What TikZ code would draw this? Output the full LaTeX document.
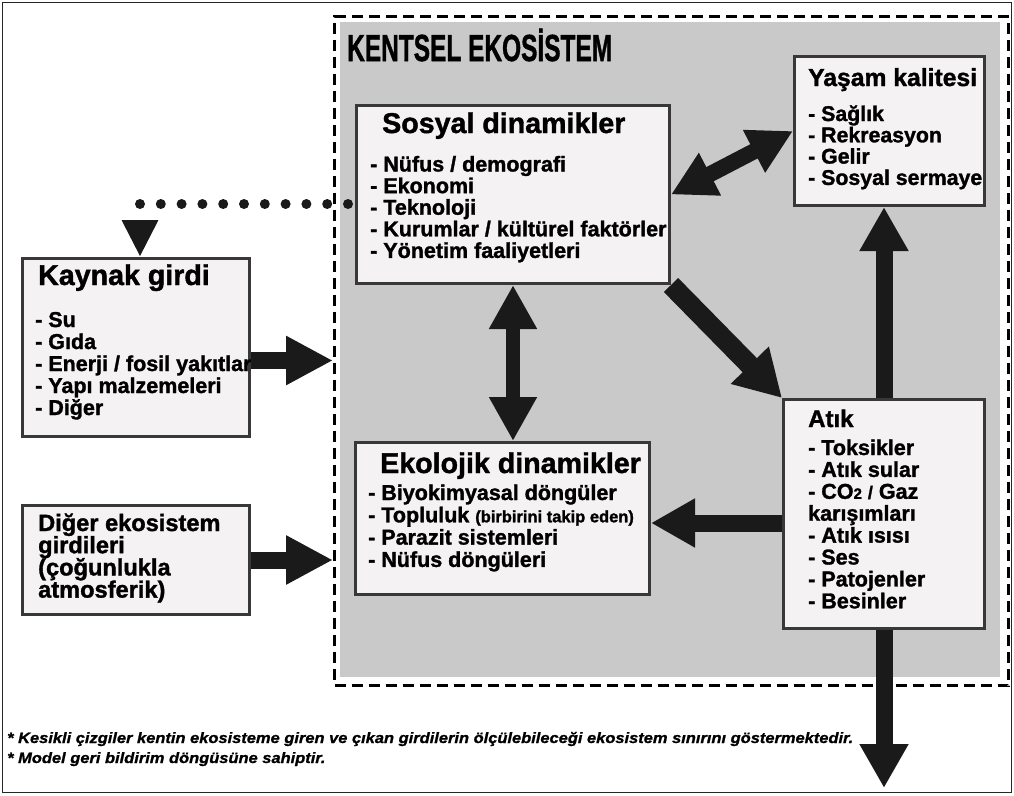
\documentclass[tikz,border=0pt]{standalone}
\usepackage{fontspec}
\setmainfont{Liberation Sans}[BoldFeatures={FakeBold=1.4},BoldItalicFeatures={FakeBold=1}]
\usetikzlibrary{arrows.meta,calc}
\definecolor{panel}{HTML}{C9C9C9}
\definecolor{boxfill}{HTML}{F4F2F2}
\definecolor{boxline}{HTML}{383838}
\definecolor{ink}{HTML}{1A1A1A}

\begin{document}
\begin{tikzpicture}[x=1pt,y=-1pt,
  box/.style={draw=boxline,line width=3pt,fill=boxfill,inner sep=0pt,anchor=north west},
  hdtext/.style={inner sep=0pt,anchor=base west,font=\fontsize{28.6}{30}\selectfont\bfseries},
  sbtext/.style={inner sep=0pt,anchor=base west,font=\fontsize{24.6}{26}\selectfont\bfseries},
  ittext/.style={inner sep=0pt,anchor=base west,font=\fontsize{21.5}{22}\selectfont\bfseries},
  flowarrow/.style={draw=ink,line width=17pt,-{Triangle[length=44pt,width=46pt]}},
  twoway/.style={draw=ink,line width=15pt,{Triangle[length=44pt,width=45pt]}-{Triangle[length=44pt,width=45pt]}},
]
% canvas and outer frame
\useasboundingbox (0,0) rectangle (1014,795);
\fill[white] (0,0) rectangle (1014,795);
\draw[line width=1.5pt,black!85] (2.5,2.5) rectangle (1011.5,792.5);

% ecosystem boundary
\node[draw=black,line width=3pt,dash pattern=on 11pt off 6pt,fill=white,
      minimum width=674pt,minimum height=669pt,inner sep=0pt,anchor=north west] (bnd) at (333,15) {};
\fill[panel] (340,22) rectangle (1000,677);

\node[inner sep=0pt,anchor=base west] (title) at (347,61)
  {\resizebox{265pt}{\height}{\fontsize{37.7}{40}\selectfont\bfseries KENTSEL EKOSİSTEM}};

% boxes
\node[box,minimum width=190pt,minimum height=149pt] (yas) at (793,55) {};
\node[box,minimum width=313pt,minimum height=178pt] (soc) at (355,104) {};
\node[box,minimum width=227pt,minimum height=178pt] (kay) at (21,257) {};
\node[box,minimum width=227pt,minimum height=109pt] (dig) at (21,504) {};
\node[box,minimum width=294pt,minimum height=152pt] (eco) at (354,441) {};
\node[box,minimum width=201pt,minimum height=229pt] (atk) at (782,398) {};

% quality of life
\node[sbtext,font=\fontsize{24.7}{26}\selectfont\bfseries] (yas-t) at (808,86) {Yaşam kalitesi};
\foreach \t [count=\i] in {- Sağlık,- Rekreasyon,- Gelir,- Sosyal sermaye}
  \node[ittext,font=\fontsize{21.3}{22}\selectfont\bfseries] (yas-\i) at (808,{121+21.3*(\i-1)}) {\t};

% social dynamics
\node[hdtext] (soc-t) at (382,133) {Sosyal dinamikler};
\foreach \t [count=\i] in {- Nüfus / demografi,- Ekonomi,- Teknoloji,- Kurumlar / kültürel faktörler,- Yönetim faaliyetleri}
  \node[ittext] (soc-\i) at (370,{171.5+21.6*(\i-1)}) {\t};

% resource input
\node[hdtext] (kay-t) at (38,285) {Kaynak girdi};
\foreach \t [count=\i] in {- Su,- Gıda,- Enerji / fosil yakıtlar,- Yapı malzemeleri,- Diğer}
  \node[ittext] (kay-\i) at (35,{327+22*(\i-1)}) {\t};

% other ecosystem inputs
\foreach \t [count=\i] in {{Diğer ekosistem},{girdileri},{(çoğunlukla},{atmosferik)}}
  \node[sbtext,font=\fontsize{23.6}{25}\selectfont\bfseries] (dig-\i) at (38,{531+22.2*(\i-1)}) {\t};

% ecological dynamics
\node[hdtext] (eco-t) at (380,473) {Ekolojik dinamikler};
\foreach \t [count=\i] in {- Biyokimyasal döngüler,{- Topluluk {\fontsize{16.5}{18}\selectfont(birbirini takip eden)}},- Parazit sistemleri,- Nüfus döngüleri}
  \node[ittext] (eco-\i) at (368,{500+22.3*(\i-1)}) {\t};

% waste
\node[sbtext,font=\fontsize{24}{26}\selectfont\bfseries] (atk-t) at (808,427) {Atık};
\foreach \t [count=\i] in {- Toksikler,- Atık sular,{- CO{\fontsize{15}{16}\selectfont 2} {\fontsize{18}{20}\selectfont /} Gaz},karışımları,- Atık ısısı,- Ses,- Patojenler,- Besinler}
  \node[ittext] (atk-\i) at (808,{455+21.9*(\i-1)}) {\t};

% dotted feedback line from social dynamics to resource input
\coordinate (dotstart) at (348,204);
\coordinate (dotbend) at (140,204);
\draw[draw=ink,line width=10pt,line cap=round,dash pattern=on 0pt off 20.8pt,
      -{Triangle[length=37pt,width=34pt]}] (dotstart) -- (dotbend) -- (dotbend |- kay.north);

% flows
\draw[flowarrow,-{Triangle[length=47pt,width=46pt]}] ($(kay.east)+(0,13)$) -- ($(kay.east -| bnd.west)+(0,13)$);
\draw[flowarrow,-{Triangle[length=47pt,width=46pt]}] (dig.east) -- (dig.east -| bnd.west);
\draw[twoway,line width=14pt] (soc.south) -- (soc.south |- eco.north);
\draw[twoway,line width=16pt] (soc.east) -- (yas.west);
\draw[flowarrow,line width=20pt,-{Triangle[length=46pt,width=50pt]}] (soc.south east) -- (atk.north west);
\draw[flowarrow] (atk.north) -- (atk.north |- yas.south);
\draw[flowarrow] ($(atk.west)+(0,9)$) -- ($(atk.west -| eco.east)+(0,9)$);
\coordinate (outpt) at (882,788);
\draw[flowarrow] (atk.south) -- (atk.south |- outpt);

% notes
\node[inner sep=0pt,anchor=base west] (note) at (7,743)
  {\resizebox{846pt}{\height}{\fontsize{15}{20}\selectfont\bfseries\itshape
   \begin{tabular}[t]{@{}l@{}}
   {*} Kesikli çizgiler kentin ekosisteme giren ve çıkan girdilerin ölçülebileceği ekosistem sınırını göstermektedir.\\
   {*} Model geri bildirim döngüsüne sahiptir.
   \end{tabular}}};
\end{tikzpicture}
\end{document}
